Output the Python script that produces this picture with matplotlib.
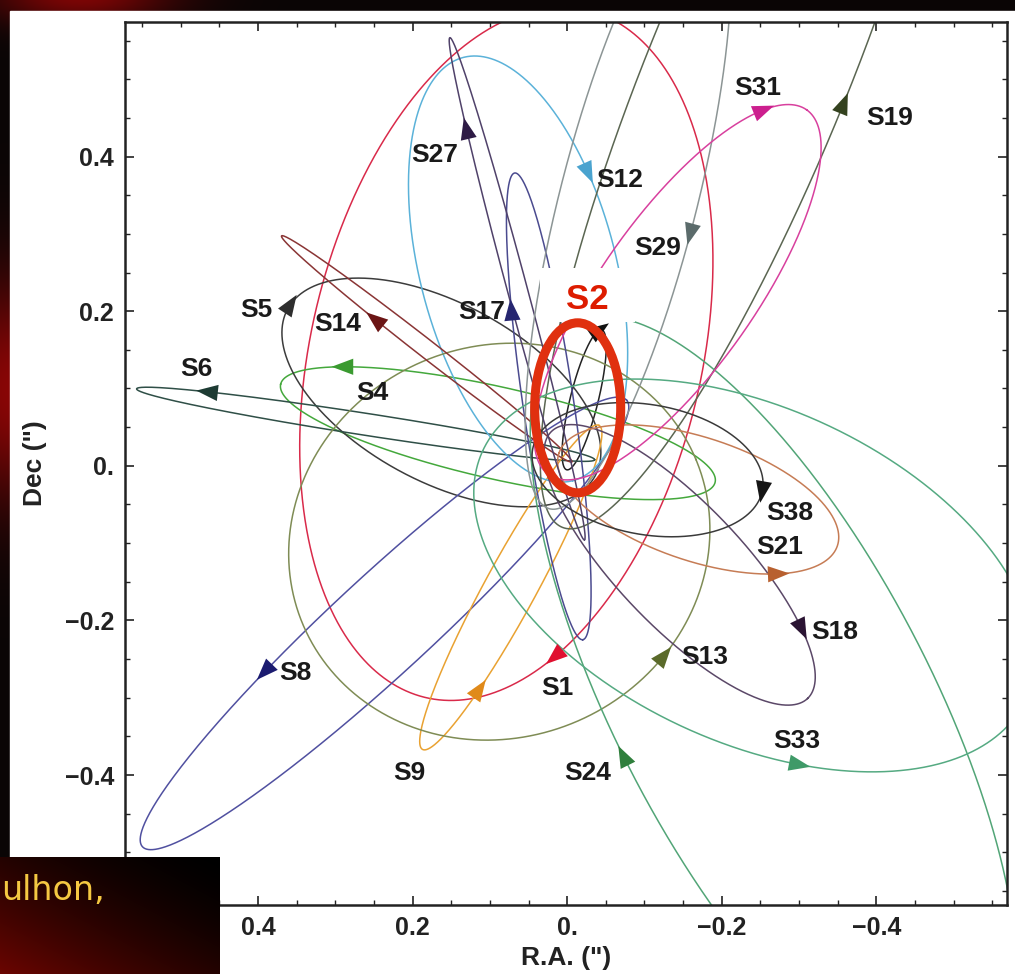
import numpy as np
import matplotlib
matplotlib.use("Agg")
import matplotlib.pyplot as plt
from matplotlib.patches import Ellipse, Rectangle

plt.rcParams["font.family"] = ["Liberation Sans", "DejaVu Sans"]

# projected orbits on the sky: centre (R.A., Dec), semi-axes and tilt, all in arcsec / degrees
stars = ["S1", "S2", "S4", "S5", "S6", "S8", "S9", "S12", "S13", "S14",
         "S17", "S18", "S19", "S21", "S24", "S27", "S29", "S31", "S33", "S38"]
center_ra = [0.0787, -0.0220, 0.0896, 0.1627, 0.2607, 0.2363, 0.0729, 0.0635, 0.0878, 0.1818,
             0.0238, -0.1455, -0.2347, -0.1695, -0.2675, 0.0647, -0.0788, -0.1429, -0.2417, -0.1040]
center_dec = [0.1448, 0.0854, 0.0422, 0.0949, 0.0537, -0.2038, -0.1573, 0.2545, -0.0981, 0.1513,
              0.0769, -0.1281, 0.5113, -0.0435, -0.3110, 0.2290, 0.3428, 0.2245, -0.1418, -0.0050]
semi_major = [0.4566, 0.0933, 0.2881, 0.2263, 0.2998, 0.4260, 0.2386, 0.2827, 0.2757, 0.2378,
              0.3050, 0.2393, 0.6381, 0.1898, 0.5591, 0.3362, 0.4111, 0.2890, 0.3862, 0.1510]
semi_minor = [0.2528, 0.0181, 0.0595, 0.1150, 0.0142, 0.0636, 0.0332, 0.1269, 0.2532, 0.0116,
              0.0329, 0.0802, 0.1300, 0.0797, 0.2028, 0.0129, 0.0887, 0.0993, 0.2163, 0.0840]
tilt_deg = [76.8, 76.0, 167.3, 151.5, -8.8, 42.7, 61.4, -75.5, 22.7, -37.9,
            -81.7, -46.2, 67.8, 161.6, -62.4, -75.0, 75.7, 54.7, 155.4, -10.0]
# sense of motion as seen on the plot: +1 counter-clockwise, -1 clockwise
sense = [-1, -1, 1, -1, 1, 1, 1, -1, 1, -1, -1, -1, 1, 1, -1, -1, -1, -1, 1, -1]
# where the direction arrow sits on each orbit
arrow_ra = [0.0136, -0.0395, 0.2878, 0.3551, 0.4625, 0.3913, 0.1158, -0.0252, -0.1197, 0.2464,
            0.0705, -0.2969, -0.3590, -0.2710, -0.0770, 0.1261, -0.1611, -0.2516, -0.2969, -0.2516]
arrow_dec = [-0.2471, 0.1759, 0.1268, 0.2044, 0.0983, -0.2639, -0.2898, 0.3803, -0.2445, 0.1889,
             0.1992, -0.2122, 0.4670, -0.1371, -0.3765, 0.4347, 0.3027, 0.4605, -0.3894, -0.0310]
label_ra = [0.0123, -0.0265, 0.2516, 0.4017, 0.4793, 0.3512, 0.2037, -0.0679, -0.1779, 0.2969,
            0.1106, -0.3461, -0.4172, -0.2749, -0.0265, 0.1714, -0.1171, -0.2464, -0.2969, -0.2878]
label_dec = [-0.2872, 0.2147, 0.0944, 0.2018, 0.1255, -0.2678, -0.3972, 0.3700, -0.2471, 0.1837,
             0.1992, -0.2147, 0.4502, -0.1048, -0.3972, 0.4023, 0.2820, 0.4890, -0.3558, -0.0608]

line_colors = ["#d92a4a", "#222222", "#44a83c", "#3c3c3c", "#2f4f47", "#5050a0", "#e9a232",
               "#5bb2d9", "#7f8c55", "#8a3535", "#4b4b8f", "#5b4868", "#5b6652", "#c67c55",
               "#52a577", "#50426a", "#8c9595", "#d8409e", "#55aa82", "#3a3a3a"]
arrow_colors = ["#e01030", "#111111", "#3a9a30", "#2e2e2e", "#1d3b33", "#1b1b70", "#e08a1a",
                "#4aa3cf", "#5a6a2a", "#6b1515", "#262670", "#2b1433", "#34421f", "#b8602f",
                "#2f7f3c", "#2e1b45", "#5b6b6b", "#cc1f8e", "#3f9a68", "#151515"]

ticks = [0.4, 0.2, 0.0, -0.2, -0.4]
tick_labels = ["0.4", "0.2", "0.", "\u22120.2", "\u22120.4"]

W, H = 1015, 974
fig = plt.figure(figsize=(W / 100, H / 100), dpi=100)

# slide background around the figure
bg = fig.add_axes([0, 0, 1, 1], zorder=-10)
bg.set_axis_off()
yy, xx = np.mgrid[0:H, 0:W]
glow = 0.5 * np.exp(-(((xx - 20) / 110) ** 2 + ((yy - 390) / 110) ** 2)) \
    + 0.45 * np.exp(-(((xx - 80) / 90) ** 2 + ((yy + 5) / 30) ** 2))
bg.imshow(np.dstack([np.clip(0.04 + glow, 0, 1), 0.02 + 0 * glow, 0.02 + 0 * glow]),
          extent=[0, W, H, 0], aspect="auto")
bg.add_patch(Rectangle((10, 11), W - 10, H - 11, color="white"))
bg.set_xlim(0, W)
bg.set_ylim(H, 0)

ax = fig.add_axes([125 / W, 1 - 905 / H, 882 / W, 883 / H], zorder=1)
ax.set_facecolor("white")
ax.set_xlim(0.572, -0.569)
ax.set_ylim(-0.568, 0.574)

t = np.linspace(0, 2 * np.pi, 1500)
L, HW = 0.028, 0.0105
for i, name in enumerate(stars):
    th = np.radians(tilt_deg[i])
    cu, cv = -center_ra[i], center_dec[i]
    a, b = semi_major[i], semi_minor[i]
    u = cu + a * np.cos(t) * np.cos(th) - b * np.sin(t) * np.sin(th)
    v = cv + a * np.cos(t) * np.sin(th) + b * np.sin(t) * np.cos(th)
    ax.plot(-u, v, color=line_colors[i], lw=1.1, zorder=2)

    # direction arrow: snap to the orbit, point along the motion
    k = np.argmin((u + arrow_ra[i]) ** 2 + (v - arrow_dec[i]) ** 2)
    du = -a * np.sin(t[k]) * np.cos(th) - b * np.cos(t[k]) * np.sin(th)
    dv = -a * np.sin(t[k]) * np.sin(th) + b * np.cos(t[k]) * np.cos(th)
    n = np.hypot(du, dv)
    tu, tv = sense[i] * du / n, sense[i] * dv / n
    p = np.array([u[k], v[k]])
    tip = p + 0.6 * L * np.array([tu, tv])
    base = p - 0.4 * L * np.array([tu, tv])
    nrm = np.array([-tv, tu])
    tri = np.array([tip, base + HW * nrm, base - HW * nrm])
    ax.fill(-tri[:, 0], tri[:, 1], color=arrow_colors[i], lw=0, zorder=3)

    if name == "S2":
        continue
    ax.text(label_ra[i], label_dec[i], name, fontsize=19, fontweight="bold",
            color="#1a1a1a", ha="center", va="center", zorder=6)

# highlight of S2
j = stars.index("S2")
ax.add_patch(Rectangle((0.0356, 0.1863), -0.1229, 0.0698, color="white", lw=0, zorder=4))
ax.text(label_ra[j], label_dec[j], "S2", fontsize=25, fontweight="bold",
        color="#dd1c00", ha="center", va="center", zorder=6)
ax.add_patch(Ellipse((-0.0136, 0.0750), 0.1113, 0.2199, fill=False,
                     ec="#e0300f", lw=6.5, zorder=5))

ax.set_xticks(ticks)
ax.set_xticklabels(tick_labels)
ax.set_yticks(ticks)
ax.set_yticklabels(tick_labels)
minor = [m for m in np.arange(-0.55, 0.551, 0.05) if min(abs(m - tk) for tk in ticks) > 1e-6]
ax.set_xticks(minor, minor=True)
ax.set_yticks(minor, minor=True)
ax.tick_params(which="major", direction="in", length=6.5, width=1.2, top=True, right=True,
               labelsize=18, pad=8, colors="#222222")
ax.tick_params(which="minor", direction="in", length=3.5, width=1.0, top=True, right=True,
               colors="#222222")
for lab in ax.get_xticklabels() + ax.get_yticklabels():
    lab.set_fontweight("bold")
for s in ax.spines.values():
    s.set_linewidth(1.8)
    s.set_color("#222222")

ax.set_xlabel("R.A. (\")", fontsize=19, fontweight="bold", color="#222222", va="center")
ax.set_ylabel("Dec (\")", fontsize=19, fontweight="bold", color="#222222", va="center")
ax.xaxis.set_label_coords(0.5, -0.060)
ax.yaxis.set_label_coords(-0.102, 0.5)

# caption box of the slide, bottom left
box = fig.add_axes([0, 0, 220 / W, 117 / H], zorder=20)
box.set_axis_off()
by, bx = np.mgrid[0:117, 0:220]
f = (bx / 220 + by / 117) / 2
box.imshow(np.dstack([0.42 * (1 - f) ** 1.6, 0.02 * (1 - f), 0.0 * f]), extent=[0, 1, 0, 1],
           aspect="auto", origin="lower")
box.set_xlim(0, 1)
box.set_ylim(0, 1)
box.text(1 / 220, 0.63, "ulhon,", fontsize=24, color="#f5c842", ha="left", va="baseline",
         family=["Liberation Sans Narrow", "DejaVu Sans"])

fig.savefig("out.png", dpi=100)
